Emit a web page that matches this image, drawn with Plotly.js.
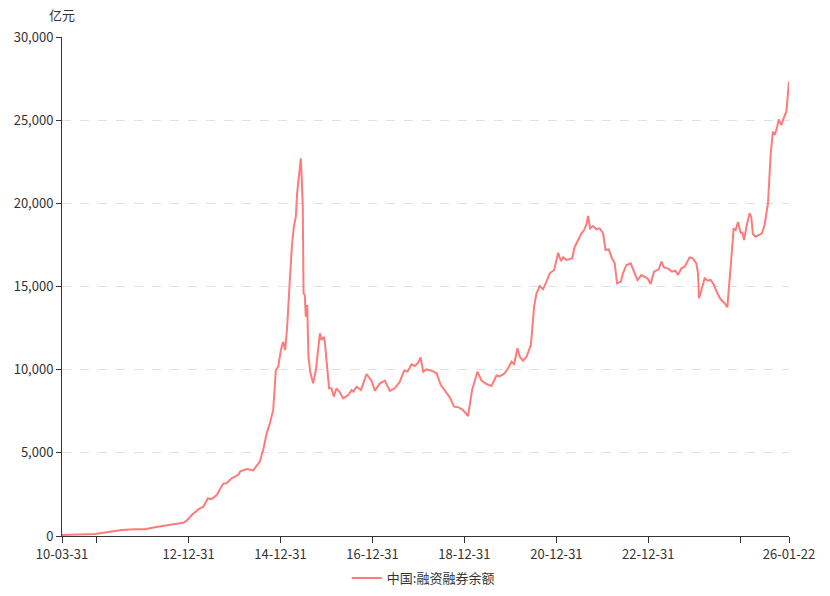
<!DOCTYPE html>
<html>
<head>
<meta charset="utf-8">
<script src="https://cdn.plot.ly/plotly-3.0.1.min.js"></script>
<style>
  html, body { margin: 0; padding: 0; background: #fff; }
  #chart { width: 830px; height: 596px; }
</style>
</head>
<body>
<div id="chart"></div>
<script>
const seriesName = "中国:融资融券余额";
const unitLabel = "亿元";

const dates = [
  "2010-03-31","2010-09-03","2010-12-18","2011-04-03","2011-07-18","2011-11-01","2012-01-19","2012-04-08",
  "2012-06-26","2012-09-14","2012-11-19","2012-12-16","2013-01-25","2013-03-18","2013-04-27","2013-06-01",
  "2013-07-02","2013-08-11","2013-10-02","2013-10-29","2013-12-08","2014-01-30","2014-02-13","2014-04-06",
  "2014-05-28","2014-07-07","2014-07-20","2014-08-16","2014-09-12","2014-10-08","2014-11-03","2014-11-24",
  "2014-12-13","2015-01-03","2015-01-21","2015-02-06","2015-02-22","2015-03-09","2015-03-31","2015-04-16",
  "2015-05-02","2015-05-12","2015-05-28","2015-06-10","2015-06-16","2015-06-26","2015-07-02","2015-07-12",
  "2015-07-20","2015-07-31","2015-08-10","2015-08-26","2015-09-16","2015-10-08","2015-10-18","2015-11-09",
  "2015-11-22","2015-12-10","2015-12-18","2016-01-01","2016-01-21","2016-02-09","2016-02-27","2016-03-20",
  "2016-04-10","2016-05-12","2016-06-21","2016-07-18","2016-07-31","2016-08-27","2016-09-30","2016-11-14",
  "2016-12-24","2017-01-19","2017-02-28","2017-04-08","2017-05-18","2017-06-26","2017-08-05","2017-09-08",
  "2017-10-05","2017-11-06","2017-12-02","2017-12-29","2018-01-17","2018-02-07","2018-03-05","2018-04-14",
  "2018-05-24","2018-06-27","2018-07-28","2018-09-06","2018-10-10","2018-11-16","2018-12-20","2019-01-29",
  "2019-03-02","2019-03-24","2019-04-14","2019-05-16","2019-06-24","2019-08-03","2019-09-12","2019-10-08",
  "2019-11-16","2019-12-13","2020-01-09","2020-01-30","2020-02-26","2020-03-15","2020-04-10","2020-05-08",
  "2020-06-11","2020-07-07","2020-07-26","2020-08-21","2020-09-16","2020-10-13","2020-11-08","2020-12-13",
  "2021-01-14","2021-02-05","2021-02-23","2021-03-22","2021-05-05","2021-05-26","2021-06-21","2021-07-18",
  "2021-08-08","2021-08-27","2021-09-09","2021-09-25","2021-10-18","2021-11-14","2021-12-10","2022-01-06",
  "2022-01-25","2022-02-20","2022-03-18","2022-04-08","2022-04-27","2022-05-26","2022-06-13","2022-07-10",
  "2022-08-13","2022-09-09","2022-10-06","2022-11-06","2022-12-24","2023-01-19","2023-02-14","2023-03-24",
  "2023-04-15","2023-05-05","2023-06-06","2023-07-07","2023-08-03","2023-08-24","2023-09-20","2023-10-16",
  "2023-11-06","2023-11-24","2023-12-20","2024-01-17","2024-01-30","2024-02-07","2024-02-26","2024-03-23",
  "2024-04-19","2024-05-10","2024-06-05","2024-07-02","2024-07-28","2024-08-29","2024-09-19","2024-10-08",
  "2024-10-26","2024-11-08","2024-11-24","2024-12-13","2025-01-03","2025-01-17","2025-01-30","2025-02-18",
  "2025-03-15","2025-03-28","2025-04-10","2025-05-02","2025-06-03","2025-06-21","2025-07-12","2025-08-08",
  "2025-08-29","2025-09-16","2025-09-30","2025-10-18","2025-11-01","2025-11-22","2025-12-10","2026-01-01",
  "2026-01-08","2026-01-22"
];

const balance = [
  66, 90, 120, 240, 360, 400, 400, 520,
  640, 720, 800, 920, 1260, 1600, 1760, 2260,
  2220, 2460, 3150, 3170, 3470, 3680, 3870, 4020,
  3950, 4330, 4470, 5200, 6170, 6780, 7580, 9980,
  10180, 11180, 11680, 11180, 12580, 14590, 17390, 18600,
  19200, 20600, 22000, 22710, 21800, 19800, 14590, 14490,
  13180, 13890, 10780, 9780, 9180, 9980, 10680, 12190,
  11780, 11980, 11680, 10380, 8880, 8880, 8380, 8880,
  8700, 8279, 8477, 8778, 8678, 8978, 8778, 9739,
  9319, 8738, 9180, 9339, 8718, 8880, 9279, 9940,
  9880, 10322, 10222, 10423, 10743, 9880, 10020, 9940,
  9781, 9078, 8738, 8339, 7775, 7735, 7575, 7214,
  8778, 9279, 9880, 9339, 9138, 9018, 9650, 9600,
  9780, 10080, 10480, 10340, 11284, 10780, 10540, 10780,
  11483, 13786, 14590, 15030, 14830, 15290, 15793, 15992,
  17032, 16533, 16753, 16593, 16693, 17393, 17838, 18198,
  18397, 18757, 19238, 18498, 18637, 18438, 18498, 18198,
  17194, 17234, 16693, 16393, 15192, 15290, 15793, 16293,
  16393, 15892, 15391, 15691, 15491, 15150, 15892, 16033,
  16493, 16153, 16073, 15892, 15952, 15691, 16093, 16193,
  16493, 16753, 16693, 16393, 15793, 14290, 14790, 15491,
  15351, 15391, 15090, 14590, 14230, 13989, 13749, 15833,
  17194, 18498, 18397, 18878, 18236, 18236, 17795, 18596,
  19398, 19198, 18156, 17995, 18156, 18196, 18697, 20000,
  22906, 24306, 24106, 24510, 25049, 24709, 25110, 25509,
  26110, 27312
];

const xTickVals = ["2010-03-31","2010-12-31","2012-12-31","2014-12-31","2016-12-31","2018-12-31","2020-12-31","2022-12-31","2024-12-31","2026-01-22"];
const xTickText = ["10-03-31","","12-12-31","14-12-31","16-12-31","18-12-31","20-12-31","22-12-31","","26-01-22"];
const yTickVals = [0, 5000, 10000, 15000, 20000, 25000, 30000];

const font = "'Microsoft YaHei', 'Noto Sans CJK SC', 'Noto Sans', sans-serif";

const trace = {
  x: dates,
  y: balance,
  type: "scatter",
  mode: "lines",
  name: seriesName,
  line: { color: "#ff7b7b", width: 2 },
  hoverinfo: "x+y"
};

const layout = {
  width: 830,
  height: 596,
  margin: { l: 62, r: 41, t: 37, b: 60, autoexpand: false },
  paper_bgcolor: "#ffffff",
  plot_bgcolor: "#ffffff",
  font: { family: font, size: 12, color: "#333" },
  showlegend: true,
  legend: {
    orientation: "h",
    xref: "container",
    yref: "container",
    x: 0.51,
    xanchor: "center",
    y: 0.030,
    yanchor: "middle",
    font: { family: font, size: 13, color: "#333" },
    itemwidth: 30
  },
  xaxis: {
    type: "date",
    range: ["2010-03-31", "2026-01-22"],
    tickmode: "array",
    tickvals: xTickVals,
    ticktext: xTickText,
    ticks: "outside",
    ticklen: 6,
    tickcolor: "#333",
    tickwidth: 1,
    showline: true,
    linecolor: "#333",
    linewidth: 1,
    showgrid: false,
    zeroline: false,
    tickfont: { family: font, size: 13, color: "#333" },
    fixedrange: true
  },
  yaxis: {
    range: [0, 30000],
    tickmode: "array",
    tickvals: yTickVals,
    tickformat: ",d",
    ticks: "outside",
    ticklen: 5,
    tickcolor: "#333",
    showline: true,
    linecolor: "#333",
    linewidth: 1,
    showgrid: true,
    gridcolor: "#e0e0e0",
    griddash: "dash",
    gridwidth: 1,
    zeroline: false,
    tickfont: { family: font, size: 13, color: "#333" },
    fixedrange: true
  },
  annotations: [{
    text: unitLabel,
    xref: "paper", yref: "paper",
    x: 0, y: 1.046,
    xanchor: "center", yanchor: "middle",
    showarrow: false,
    font: { family: font, size: 13, color: "#333" }
  }]
};

Plotly.newPlot("chart", [trace], layout, { displayModeBar: false, staticPlot: true });
</script>
</body>
</html>
